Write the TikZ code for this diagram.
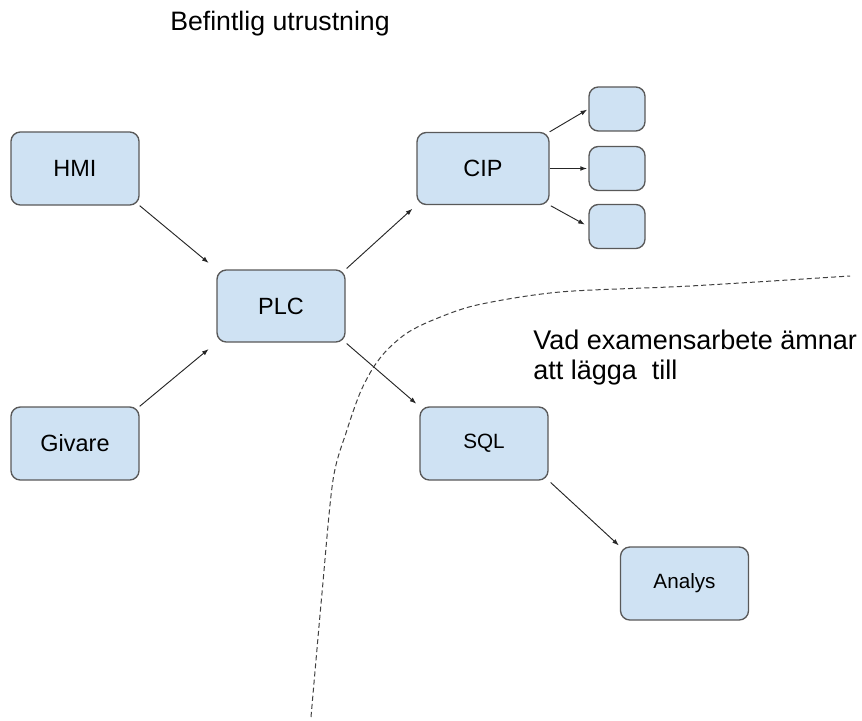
\documentclass[tikz,border=0pt]{standalone}
\usepackage{fontspec}
\setmainfont{Liberation Sans}
\usetikzlibrary{arrows.meta}
\definecolor{boxblue}{HTML}{CFE2F3}
\definecolor{boxline}{HTML}{595959}
\tikzset{
	unit/.style={draw=boxline, fill=boxblue, rounded corners=7pt, line width=1pt, minimum width=96pt, minimum height=54.75pt, inner sep=0pt, font=\fontsize{17.6}{20}\selectfont},
	port/.style={unit, minimum width=42pt, minimum height=33pt},
	flow/.style={-{Latex[length=5pt,width=3.6pt]}, line width=0.7pt, draw=black!85},
	border/.style={dashed, dash pattern=on 3.8pt off 2.3pt, line width=0.75pt, draw=black!75},
}

\begin{document}
\begin{tikzpicture}[x=0.75pt, y=-0.75pt]
	%%%%% START %%%%%
	\useasboundingbox (0,0) rectangle (862,720);
	
	\node[anchor=base west, inner sep=0pt, font=\fontsize{20}{24}\selectfont] (befintlig) at (170,31) {Befintlig utrustning};
	
	\node[unit] (hmi) at (75,168.5) {HMI};
	\node[unit] (givare) at (75,443.5) {Givare};
	\node[unit, minimum height=54pt] (plc) at (281,306) {PLC};
	\node[unit, minimum width=99pt, minimum height=54pt] (cip) at (483,168.5) {CIP};
	\node[unit, font=\fontsize{15.5}{18}\selectfont] (sql) at (484,443.5) {SQL};
	\node[unit, font=\fontsize{15.5}{18}\selectfont] (analys) at (684.5,583.5) {Analys};
	
	\node[port] (cipa) at (617,109) {};
	\node[port] (cipb) at (617,168.5) {};
	\node[port] (cipc) at (617,226.5) {};
	
	\draw[flow, shorten >=7.5pt] (hmi.south east) -- (plc.north west);
	\draw[flow, shorten >=7.5pt] (givare.north east) -- (plc.south west);
	\draw[flow, shorten <=1pt, shorten >=4pt] (plc.north east) -- (cip.south west);
	\draw[flow, shorten <=1pt, shorten >=3pt] (plc.south east) -- (sql.north west);
	\draw[flow, shorten >=1pt] (cip.north east) -- (cipa.west);
	\draw[flow, shorten >=1pt] (cip.east) -- (cipb.west);
	\draw[flow, shorten <=1pt, shorten >=3pt] (cip.south east) -- (cipc.west);
	\draw[flow, shorten <=2pt, shorten >=1pt] (sql.south east) -- (analys.north west);
	
	\draw[border] plot[smooth, tension=0.5] coordinates {(311,717) (322,593) (333,480) (347,430) (360,393) (373,368) (387,350) (407,333) (433,320) (477,305) (560,292) (690,286) (850,276)};
	
	\node[anchor=north west, inner sep=0pt, align=left, font=\fontsize{20.25}{22.5}\selectfont] (ziel) at (533,330) {Vad examensarbete ämnar\\att lägga~ till};
	
	%%%%% END %%%%%
\end{tikzpicture}
\end{document}
